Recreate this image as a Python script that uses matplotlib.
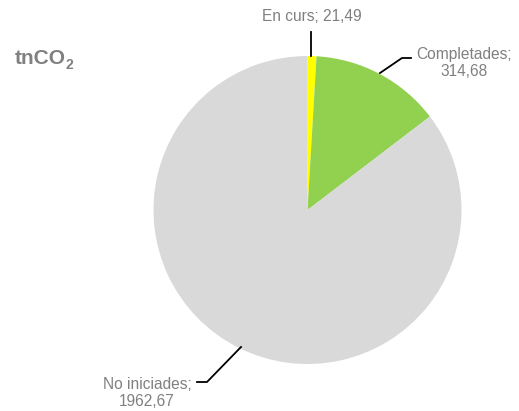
import matplotlib
matplotlib.use("Agg")
import matplotlib.pyplot as plt

categories = ["En curs", "Completades", "No iniciades"]
values = [21.49, 314.68, 1962.67]
value_labels = ["21,49", "314,68", "1962,67"]
colors = ["#FFFF00", "#92D050", "#D9D9D9"]

plt.rcParams['font.family'] = ['Liberation Sans', 'DejaVu Sans']

W, H = 519, 411
fig = plt.figure(figsize=(W / 100, H / 100), dpi=100)
ax = fig.add_axes([0, 0, 1, 1])
ax.set_xlim(0, W)
ax.set_ylim(0, H)
ax.set_aspect('equal')
ax.axis('off')

cx, cy, r = 307.5, H - 210, 154
ax.pie(values, colors=colors, startangle=90, counterclock=False,
       center=(cx, cy), radius=r, wedgeprops=dict(linewidth=0))
ax.set_xlim(0, W)
ax.set_ylim(0, H)

tc = "#808080"
fs = 11.2
# En curs
ax.plot([311, 311], [H - 32, H - 56], color="black", lw=1.3)
ax.text(312, H - 17, f"{categories[0]}; {value_labels[0]}", color=tc, fontsize=fs,
        ha='center', va='center')
# Completades
ax.plot([380, 402, 411], [H - 73, H - 58, H - 58], color="black", lw=1.3)
ax.text(464, H - 63, f"{categories[1]};\n{value_labels[1]}", color=tc, fontsize=fs,
        ha='center', va='center', linespacing=1.1)
# No iniciades
ax.plot([241, 207, 197], [H - 347, H - 382, H - 382], color="black", lw=1.3)
ax.text(147, H - 393, f"{categories[2]};\n{value_labels[2]}", color=tc, fontsize=fs,
        ha='center', va='center', linespacing=1.1)

ax.text(15, H - 64, "tnCO", color=tc, fontsize=15, fontweight='bold',
        ha='left', va='baseline')
ax.text(65.5, H - 69, "2", color=tc, fontsize=10, fontweight='bold',
        ha='left', va='baseline')

fig.savefig("out.png", dpi=100)
